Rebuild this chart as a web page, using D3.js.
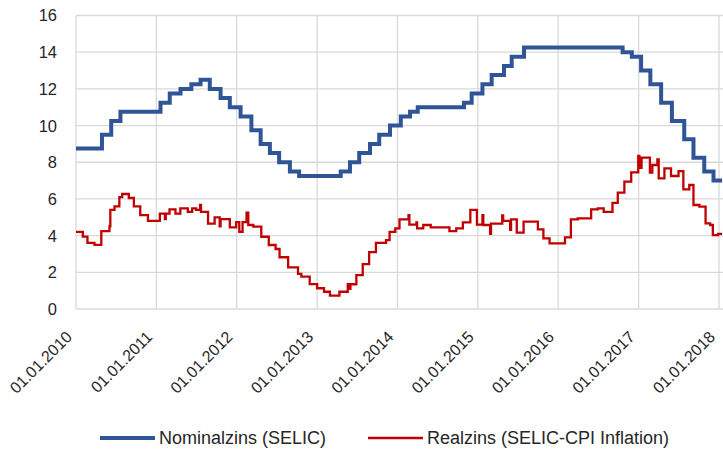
<!DOCTYPE html>
<html>
<head>
<meta charset="utf-8">
<script src="https://cdn.jsdelivr.net/npm/d3@7"></script>
<style>
  body { margin: 0; background: #fff; }
  text { font-family: "Liberation Sans", Arial, sans-serif; fill: #262626; }
</style>
</head>
<body>
<div id="chart"></div>
<script>
// data

const yTicks = [0, 2, 4, 6, 8, 10, 12, 14, 16];
const xTickLabels = ["01.01.2010", "01.01.2011", "01.01.2012", "01.01.2013", "01.01.2014",
                     "01.01.2015", "01.01.2016", "01.01.2017", "01.01.2018"];

// Nominalzins (SELIC) – step changes
const selicDates = ["2010-01-01", "2010-04-29", "2010-06-10", "2010-07-22", "2011-01-20", "2011-03-03",
  "2011-04-21", "2011-06-09", "2011-07-21", "2011-09-01", "2011-10-20", "2011-12-01", "2012-01-19",
  "2012-03-08", "2012-04-19", "2012-05-31", "2012-07-12", "2012-08-30", "2012-10-11", "2013-04-18",
  "2013-05-30", "2013-07-11", "2013-08-29", "2013-10-10", "2013-11-28", "2014-01-16", "2014-02-27",
  "2014-04-03", "2014-10-30", "2014-12-04", "2015-01-22", "2015-03-05", "2015-04-30", "2015-06-04",
  "2015-07-30", "2016-10-20", "2016-12-01", "2017-01-12", "2017-02-23", "2017-04-13", "2017-06-01",
  "2017-07-27", "2017-09-07", "2017-10-26", "2017-12-07", "2018-01-15"];
const selicValues = [8.75, 9.5, 10.25, 10.75, 11.25, 11.75, 12.0, 12.25, 12.5, 12.0, 11.5, 11.0, 10.5,
  9.75, 9.0, 8.5, 8.0, 7.5, 7.25, 7.5, 8.0, 8.5, 9.0, 9.5, 10.0, 10.5, 10.75, 11.0, 11.25, 11.75, 12.25,
  12.75, 13.25, 13.75, 14.25, 14.0, 13.75, 13.0, 12.25, 11.25, 10.25, 9.25, 8.25, 7.5, 7.0, 7.0];

// Realzins (SELIC-CPI Inflation)
const realDates = ["2010-01-01", "2010-02-01", "2010-02-22", "2010-03-26", "2010-04-26", "2010-06-02",
  "2010-06-06", "2010-06-25", "2010-07-17", "2010-07-30", "2010-08-29", "2010-09-21", "2010-10-20",
  "2010-11-24", "2011-01-17", "2011-02-09", "2011-02-13", "2011-03-02", "2011-03-29", "2011-04-20",
  "2011-05-24", "2011-06-13", "2011-07-01", "2011-07-19", "2011-07-23", "2011-08-24", "2011-09-23",
  "2011-10-16", "2011-10-20", "2011-12-01", "2011-12-30", "2012-01-13", "2012-01-28", "2012-02-15",
  "2012-02-23", "2012-03-17", "2012-04-22", "2012-05-26", "2012-06-26", "2012-07-14", "2012-08-22",
  "2012-10-06", "2012-10-21", "2012-11-28", "2013-01-01", "2013-02-01", "2013-02-28", "2013-04-12",
  "2013-05-20", "2013-05-26", "2013-06-01", "2013-06-28", "2013-07-27", "2013-08-25", "2013-09-25",
  "2013-11-10", "2013-11-26", "2013-12-22", "2014-01-10", "2014-02-20", "2014-02-24", "2014-03-28",
  "2014-03-31", "2014-04-28", "2014-06-01", "2014-08-25", "2014-09-25", "2014-10-25", "2014-11-28",
  "2014-12-28", "2015-01-22", "2015-01-26", "2015-02-26", "2015-03-02", "2015-04-22", "2015-04-26",
  "2015-05-28", "2015-06-01", "2015-06-27", "2015-07-28", "2015-10-01", "2015-10-26", "2015-11-23",
  "2016-02-01", "2016-02-28", "2016-03-30", "2016-05-30", "2016-06-29", "2016-07-26", "2016-09-04",
  "2016-09-28", "2016-10-28", "2016-11-28", "2016-12-30", "2017-01-04", "2017-01-14", "2017-01-21",
  "2017-02-21", "2017-03-04", "2017-03-27", "2017-04-02", "2017-04-28", "2017-05-28", "2017-07-01",
  "2017-07-23", "2017-08-19", "2017-09-07", "2017-10-04", "2017-11-01", "2017-11-22", "2017-12-04",
  "2017-12-28", "2018-01-15"];
const realValues = [4.2, 3.95, 3.6, 3.5, 4.25, 4.5,
  5.4, 5.6, 6.1, 6.27, 6.05, 5.6, 5.12,
  4.8, 5.2, 4.9, 5.2, 5.43, 5.2, 5.49,
  5.3, 5.49, 5.4, 5.67, 5.3, 4.65, 5.0,
  4.5, 4.9, 4.45, 4.74, 4.21, 4.74, 5.25,
  4.58, 4.49, 3.94, 3.49, 3.27, 2.82, 2.27,
  1.91, 1.76, 1.36, 1.13, 0.94, 0.73, 0.94,
  1.35, 1.1, 1.35, 1.85, 2.45, 3.1, 3.6,
  3.75, 4.2, 4.4, 4.89, 5.12, 4.6, 4.72,
  4.4, 4.58, 4.45, 4.25, 4.4, 4.72, 5.4,
  4.6, 5.12, 4.58, 4.09, 4.65, 5.1, 4.8,
  4.31, 4.89, 4.16, 4.76, 4.34, 3.85, 3.58,
  3.91, 4.89, 4.94, 5.43, 5.49, 5.3, 5.79,
  6.34, 6.94, 7.45, 8.35, 7.7, 8.25, 8.25,
  7.43, 7.85, 8.16, 7.12, 7.67, 7.25, 7.52,
  6.52, 6.76, 5.67, 5.58, 4.67, 4.58, 4.03,
  4.09, 4.09];

const parse = d3.timeParse("%Y-%m-%d");
const selic = selicDates.map((d, i) => [parse(d), selicValues[i]]);
const real = realDates.map((d, i) => [parse(d), realValues[i]]);
const tickDates = xTickLabels.map(s => d3.timeParse("%d.%m.%Y")(s));

const width = 723, height = 457;
const svg = d3.select("#chart").append("svg")
    .attr("width", width)
    .attr("height", height);
svg.append("rect").attr("width", width).attr("height", height).attr("fill", "#fff");

const x = d3.scaleTime()
    .domain([tickDates[0], tickDates[tickDates.length - 1]])
    .range([76, 719]);
const y = d3.scaleLinear()
    .domain([0, 16])
    .range([309, 15.5]);

// gridlines
const grid = svg.append("g").attr("stroke", "#d9d9d9").attr("stroke-width", 1.3);
grid.selectAll("line.h").data(yTicks).join("line")
    .attr("x1", 76).attr("x2", 723)
    .attr("y1", d => y(d)).attr("y2", d => y(d));
grid.selectAll("line.v").data(tickDates).join("line")
    .attr("x1", d => x(d)).attr("x2", d => x(d))
    .attr("y1", y(16)).attr("y2", y(0));

// y labels
svg.append("g").selectAll("text").data(yTicks).join("text")
    .attr("x", 57)
    .attr("y", d => y(d))
    .attr("dy", "0.36em")
    .attr("text-anchor", "end")
    .style("font-size", "16.5px")
    .text(d => d);

// x labels, rotated
svg.append("g").selectAll("text").data(tickDates).join("text")
    .attr("transform", d => "translate(" + (x(d) - 3) + ",338) rotate(-45)")
    .attr("text-anchor", "end")
    .style("font-size", "16px")
    .text((d, i) => xTickLabels[i]);

const line = d3.line()
    .curve(d3.curveStepAfter)
    .x(d => x(d[0]))
    .y(d => y(d[1]));

svg.append("clipPath").attr("id", "plotclip")
  .append("rect").attr("x", 70).attr("y", 0).attr("width", 653).attr("height", 320);

svg.append("path")
    .datum(real)
    .attr("clip-path", "url(#plotclip)")
    .attr("fill", "none")
    .attr("stroke", "#c00000")
    .attr("stroke-width", 2.3)
    .attr("d", line);

svg.append("path")
    .datum(selic)
    .attr("clip-path", "url(#plotclip)")
    .attr("fill", "none")
    .attr("stroke", "#2f5597")
    .attr("stroke-width", 4)
    .attr("d", line);

// legend
const legend = [
  {name: "Nominalzins (SELIC)", color: "#2f5597", w: 4, x: 100},
  {name: "Realzins (SELIC-CPI Inflation)", color: "#c00000", w: 2.3, x: 368}
];
const lg = svg.append("g").selectAll("g").data(legend).join("g")
    .attr("transform", d => "translate(" + d.x + ",438)");
lg.append("line")
    .attr("x1", 0).attr("x2", 55)
    .attr("stroke", d => d.color)
    .attr("stroke-width", d => d.w);
lg.append("text")
    .attr("x", 59)
    .attr("dy", "0.36em")
    .style("font-size", "18px")
    .text(d => d.name);
</script>
</body>
</html>
